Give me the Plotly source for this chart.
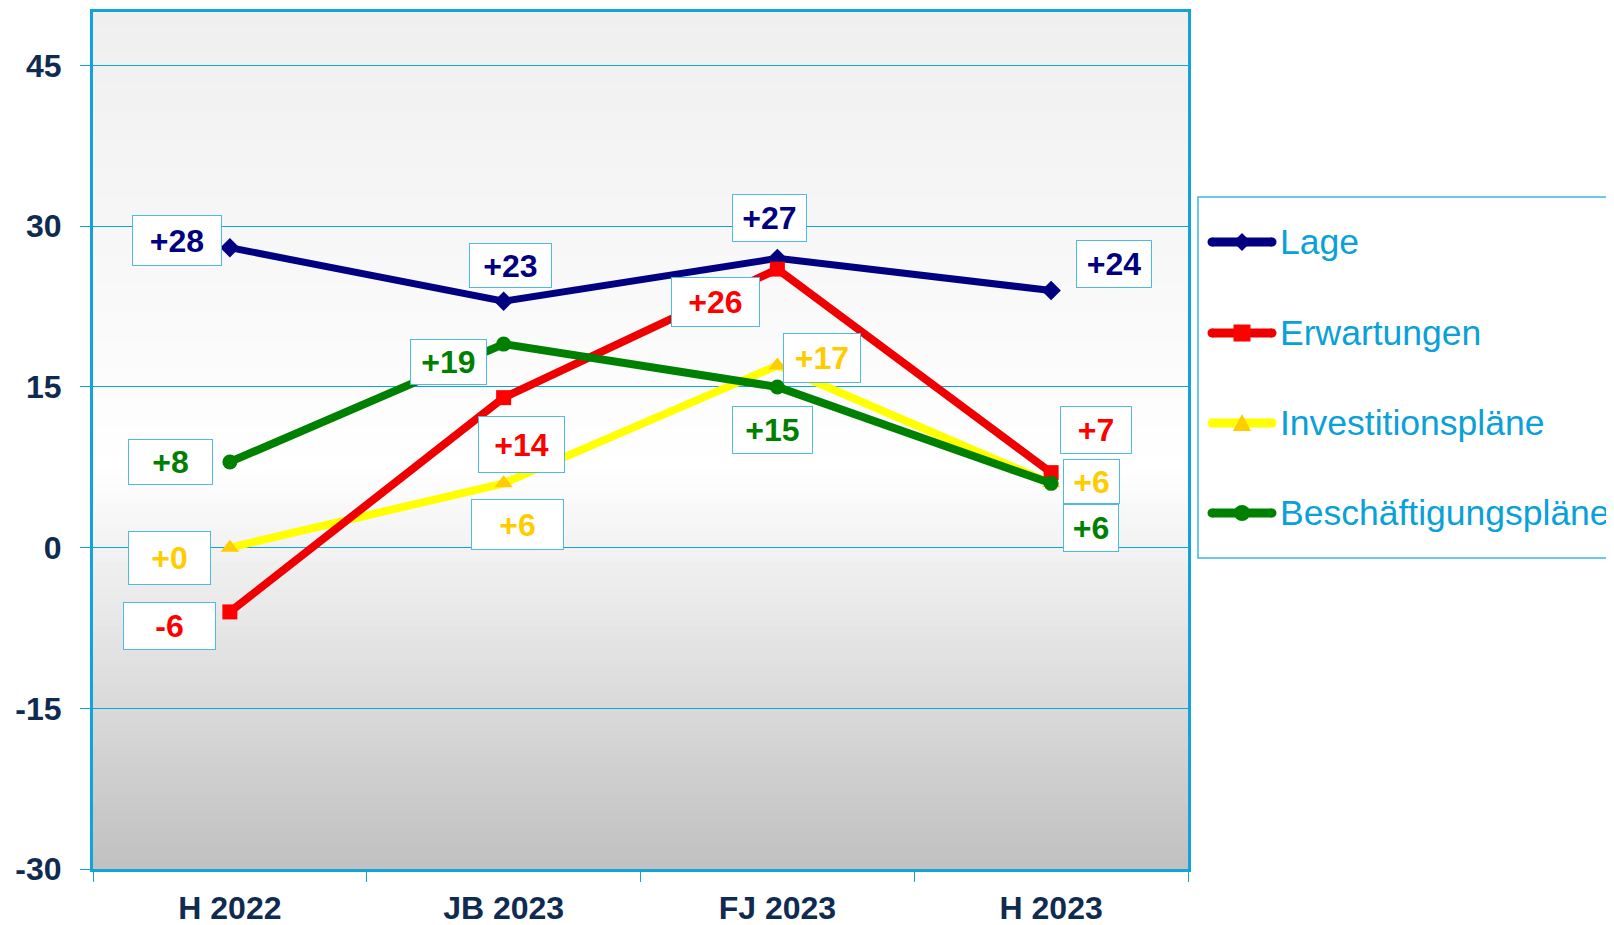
import plotly.graph_objects as go

# ---------------- data ----------------
categories = ["H 2022", "JB 2023", "FJ 2023", "H 2023"]
lage = [28, 23, 27, 24]
erwartungen = [-6, 14, 26, 7]
investitionsplaene = [0, 6, 17, 6]
beschaeftigungsplaene = [8, 19, 15, 6]
series_names = ["Lage", "Erwartungen", "Investitionspläne", "Beschäftigungspläne"]
y_ticks = [-30, -15, 0, 15, 30, 45]

# ---------------- layout geometry (pixels, page coords) ----------------
OFF = 8  # default body margin of the html page
W, H = 1614 - OFF, 925 - OFF
L, R, T, B = 93 - OFF, 1188 - OFF, 12 - OFF, 869 - OFF


def px_x(p):
    return (p - OFF - L) / (R - L)


def px_y(p):
    return (B - (p - OFF)) / (B - T)


FONT = "Liberation Sans, Arial, Helvetica, sans-serif"
CYAN = "#12a3d8"
TICKCOL = "#0f2b50"

styles = {
    "Lage": dict(line="#000080", marker="#000080", symbol="diamond", msize=15, lw=7, label="#000080"),
    "Erwartungen": dict(line="#ee0000", marker="#ff0000", symbol="square", msize=15, lw=8, label="#ff0000"),
    "Investitionspläne": dict(line="#ffff00", marker="#ffcc00", symbol="triangle-up", msize=16, lw=8, label="#ffcc00"),
    "Beschäftigungspläne": dict(line="#008000", marker="#008000", symbol="circle", msize=15, lw=8, label="#008000"),
}

# label offsets: (dx, dy-up, box width, box height) in pixels
label_layout = {
    "Lage": [(-53, 7, 90, 51), (7, 36, 83, 45), (-8, 40, 75, 48), (63, 27, 76, 48)],
    "Erwartungen": [(-60, -14, 93, 48), (18, -47, 87, 57), (-62, -33, 89, 50), (45, 43, 72, 48)],
    "Investitionspläne": [(-60, -10, 83, 54), (14, -41, 93, 51), (45, 8, 78, 50), (40, 2, 57, 45)],
    "Beschäftigungspläne": [(-59, 0, 85, 46), (-55, -18, 77, 46), (-5, -43, 81, 48), (40, -45, 56, 48)],
}

values = {
    "Lage": lage,
    "Erwartungen": erwartungen,
    "Investitionspläne": investitionsplaene,
    "Beschäftigungspläne": beschaeftigungsplaene,
}

draw_order = ["Lage", "Investitionspläne", "Erwartungen", "Beschäftigungspläne"]

fig = go.Figure()
for name in draw_order:
    st = styles[name]
    fig.add_trace(go.Scatter(
        x=categories, y=values[name], name=name, mode="lines+markers",
        line=dict(color=st["line"], width=st["lw"]),
        marker=dict(symbol=st["symbol"], size=st["msize"], color=st["marker"],
                    line=dict(width=0)),
        showlegend=False, hoverinfo="skip",
    ))

annotations = []
for name in series_names:
    st = styles[name]
    for cat, v, (dx, dy, bw, bh) in zip(categories, values[name], label_layout[name]):
        annotations.append(dict(
            x=cat, y=v, xref="x", yref="y", text=f"{v:+d}", showarrow=False,
            xshift=dx, yshift=dy, width=bw - 2, height=bh - 2,
            align="center", valign="middle",
            bgcolor="white", bordercolor="#4dbbe6", borderwidth=1, borderpad=0,
            font=dict(family=FONT, size=32, color=st["label"], weight="bold"),
        ))

shapes = []
# background gradient (top light grey -> white -> grey at bottom)
N = 120


def grad(f):  # f = fraction from top
    if f <= 0.53:
        c = 0xef + (0xff - 0xef) * (f / 0.53)
    else:
        c = 0xff - (0xff - 0xc0) * ((f - 0.53) / 0.47)
    c = int(round(c))
    return f"rgb({c},{c},{c})"


for i in range(N):
    y0 = i / N
    y1 = min(1.0, (i + 1) / N + 0.002)
    f = 1 - (i + 0.5) / N
    shapes.append(dict(type="rect", xref="x domain", yref="y domain",
                       x0=0, x1=1, y0=y0, y1=y1, fillcolor=grad(f),
                       line=dict(width=0), layer="below"))

# custom legend
shapes.append(dict(type="rect", xref="paper", yref="paper",
                   x0=px_x(1198), x1=px_x(1690), y0=px_y(558), y1=px_y(197),
                   line=dict(color="#3db5e5", width=1.5), fillcolor="white", layer="above"))
rows = [242, 333, 423, 513]
for name, ry in zip(series_names, rows):
    st = styles[name]
    shapes.append(dict(type="line", xref="paper", yref="paper",
                       x0=px_x(1212), x1=px_x(1272), y0=px_y(ry), y1=px_y(ry),
                       line=dict(color=st["line"], width=9)))
    for cx in (1212, 1272):
        shapes.append(dict(type="circle", xref="paper", yref="paper",
                           xsizemode="pixel", ysizemode="pixel",
                           xanchor=px_x(cx), yanchor=px_y(ry),
                           x0=-4.5, x1=4.5, y0=-4.5, y1=4.5,
                           fillcolor=st["line"], line=dict(width=0)))
    common = dict(xref="paper", yref="paper", xsizemode="pixel", ysizemode="pixel",
                  xanchor=px_x(1242), yanchor=px_y(ry),
                  fillcolor=st["marker"], line=dict(width=0))
    if st["symbol"] == "diamond":
        shapes.append(dict(type="path", path="M -9 0 L 0 9 L 9 0 L 0 -9 Z", **common))
    elif st["symbol"] == "square":
        shapes.append(dict(type="rect", x0=-8.5, x1=8.5, y0=-8.5, y1=8.5, **common))
    elif st["symbol"] == "triangle-up":
        shapes.append(dict(type="path", path="M -9 -8 L 9 -8 L 0 9 Z", **common))
    else:
        shapes.append(dict(type="circle", x0=-8, x1=8, y0=-8, y1=8, **common))
    annotations.append(dict(
        x=px_x(1278), y=px_y(ry), xref="paper", yref="paper", xanchor="left",
        yanchor="middle", text=name, showarrow=False,
        font=dict(family=FONT, size=35.5, color="#0aa0d8"),
    ))

fig.update_layout(
    width=W, height=H,
    margin=dict(l=L, r=W - R, t=T, b=H - B, pad=0, autoexpand=False),
    paper_bgcolor="white", plot_bgcolor="white",
    showlegend=False,
    shapes=shapes, annotations=annotations,
    xaxis=dict(
        type="category", range=[-0.5, 3.5], showgrid=False, zeroline=False,
        showline=True, linecolor=CYAN, linewidth=3, mirror=True, automargin=False,
        ticks="outside", tickson="boundaries", ticklen=10, tickcolor=CYAN, tickwidth=1,
        tickfont=dict(family=FONT, size=32, color=TICKCOL, weight="bold"),
        ticklabelstandoff=9,
    ),
    yaxis=dict(
        range=[-30, 50], tickvals=y_ticks, ticktext=[str(t) for t in y_ticks],
        showgrid=True, gridcolor=CYAN, gridwidth=1, zeroline=False, automargin=False,
        showline=True, linecolor=CYAN, linewidth=3, mirror=True,
        ticks="outside", ticklen=10, tickcolor=CYAN, tickwidth=1,
        tickfont=dict(family=FONT, size=32, color=TICKCOL, weight="bold"),
        ticklabelstandoff=12,
    ),
)

fig.write_html("out.html")
